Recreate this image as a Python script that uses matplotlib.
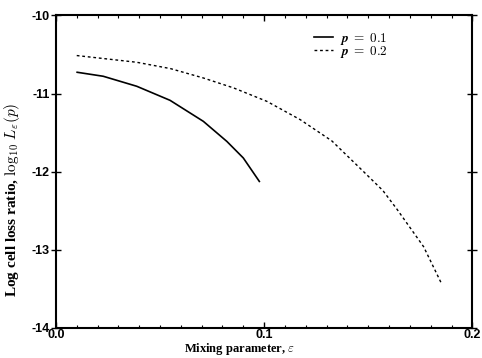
import matplotlib
matplotlib.use("Agg")
import matplotlib.pyplot as plt
from matplotlib.ticker import MultipleLocator

plt.rcParams['mathtext.fontset'] = 'cm'

# curve p = 0.1 (solid)
eps_p1 = [0.0102, 0.0227, 0.0388, 0.0548, 0.0708, 0.0821, 0.0900, 0.0977]
loss_p1 = [-10.727, -10.778, -10.906, -11.086, -11.355, -11.612, -11.824, -12.124]

# curve p = 0.2 (dashed)
eps_p2 = [0.0100, 0.0388, 0.0550, 0.0708, 0.0853, 0.1013, 0.1173, 0.1325,
          0.1478, 0.1570, 0.1638, 0.1766, 0.1851]
loss_p2 = [-10.513, -10.599, -10.680, -10.800, -10.927, -11.099, -11.333, -11.605,
           -12.000, -12.240, -12.480, -12.960, -13.427]

labels = [r'$\boldsymbol{p}\;=\;0.1$', r'$\boldsymbol{p}\;=\;0.2$']

fig = plt.figure(figsize=(4.82, 3.58), dpi=100)
ax = fig.add_axes([0.116, 0.0838, 0.864, 0.873])

ax.plot(eps_p1, loss_p1, color='black', lw=1.2, label=labels[0])
ax.plot(eps_p2, loss_p2, color='black', lw=1.0, linestyle=(0, (2, 2)), label=labels[1])

ax.set_xlim(0, 0.2)
ax.set_ylim(-14, -10)
ax.set_xticks([0.0, 0.1, 0.2])
ax.set_xticklabels(['0.0', '0.1', '0.2'])
ax.xaxis.set_minor_locator(MultipleLocator(0.01))
ax.set_yticks([-14, -13, -12, -11, -10])
ax.set_yticklabels(['-14', '-13', '-12', '-11', '-10'])

for s in ax.spines.values():
    s.set_linewidth(1.5)

ax.tick_params(axis='x', which='major', direction='in', length=4, width=1, pad=1,
               labelsize=9, top=True)
ax.tick_params(axis='x', which='minor', direction='in', length=2.5, width=0.8, top=True)
ax.tick_params(axis='y', which='major', direction='inout', length=7, width=1, pad=1,
               labelsize=9, right=True)
for t in ax.get_xticklabels() + ax.get_yticklabels():
    t.set_family('Liberation Sans')
    t.set_fontweight('bold')

ax.set_xlabel(r'Mixing parameter, $\varepsilon$', fontsize=9, fontweight='bold',
              family='Liberation Serif')
ax.xaxis.set_label_coords(0.44, -0.04)
ax.set_ylabel(r'Log cell loss ratio, $\log_{10}\, L_\varepsilon(p)$', fontsize=11,
              fontweight='bold', family='Liberation Serif')
ax.yaxis.set_label_coords(-0.082, 0.41)

ax.legend(loc='upper left', bbox_to_anchor=(0.62, 0.95), frameon=False, fontsize=9.5,
          handlelength=1.4, handletextpad=0.6, labelspacing=-0.25, borderpad=0,
          borderaxespad=0)

fig.savefig('out.png', dpi=100)
